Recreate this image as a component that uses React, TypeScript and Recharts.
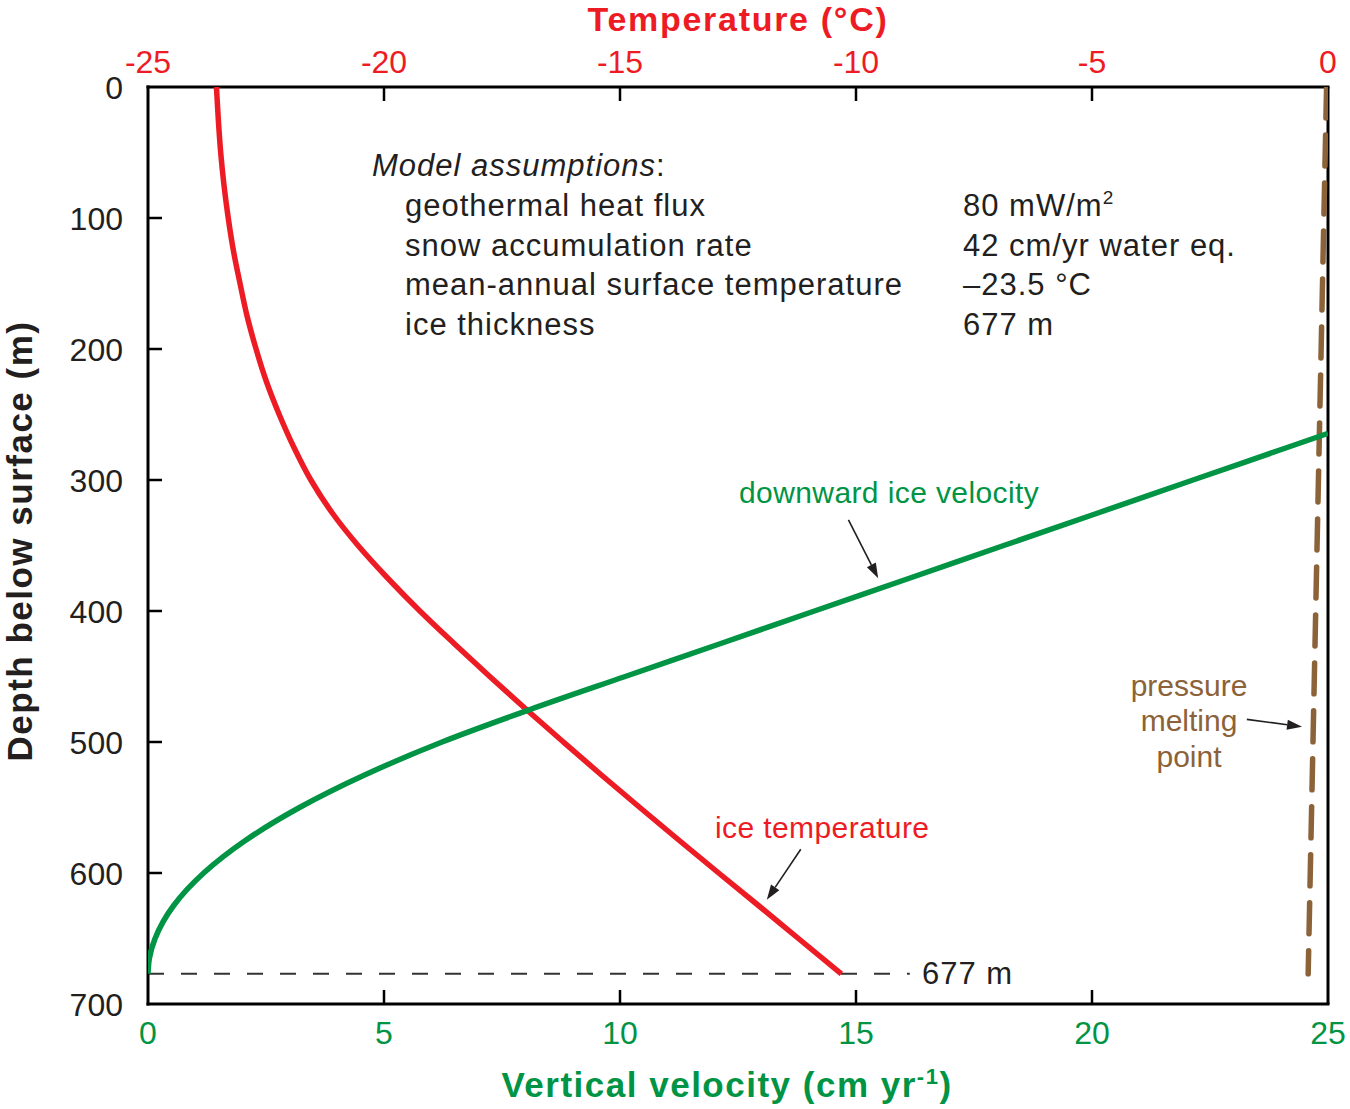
import React from 'react';
import { ScatterChart, Scatter, XAxis, YAxis, ReferenceLine } from 'recharts';

// Ice temperature profile, read every 25 m (depth in m, temperature in °C)
const tempDepth = [
  0, 25, 50, 75, 100, 125, 150, 175, 200, 225, 250, 275, 300, 325,
  350, 375, 400, 425, 450, 475, 500, 525, 550, 575, 600, 625, 650, 677,
];
const tempValues = [
  -23.55, -23.51, -23.46, -23.39, -23.3, -23.19, -23.05, -22.9, -22.71, -22.49, -22.22, -21.91, -21.55, -21.1,
  -20.55, -19.92, -19.24, -18.51, -17.76, -16.99, -16.2, -15.4, -14.58, -13.75, -12.91, -12.06, -11.22, -10.31,
];

// Downward ice velocity (cm/yr); the curve leaves the frame at 25 cm/yr
const velDepth = [264.4, 275, 300, 325, 350, 375, 400, 425, 450, 475, 500, 525, 550, 575, 600, 625, 650, 665, 677];
const velValues = [25, 24.15, 22.14, 20.14, 18.13, 16.13, 14.12, 12.12, 10.11, 8.11, 6.23, 4.6, 3.21, 2.07, 1.18, 0.54, 0.15, 0.03, 0];

// Pressure melting point (°C)
const pmpDepth = [0, 677];
const pmpValues = [-0.03, -0.42];

const tempTicks = [-25, -20, -15, -10, -5, 0];
const velTicks = [0, 5, 10, 15, 20, 25];
const depthTicks = [0, 100, 200, 300, 400, 500, 600, 700];

const ICE_THICKNESS = 677;
const DASH_END_VEL = 16.14;

// annotation arrows, in velocity / depth units
const arrowStart = [
  { x: 14.84, y: 330.5 },
  { x: 13.83, y: 581.9 },
  { x: 23.28, y: 482.7 },
];
const arrowEnd = [
  { x: 15.47, y: 375 },
  { x: 13.11, y: 620.5 },
  { x: 24.45, y: 488.3 },
];

const assumptionNames = [
  'geothermal heat flux',
  'snow accumulation rate',
  'mean-annual surface temperature',
  'ice thickness',
];
const assumptionValues = ['80 mW/m', '42 cm/yr water eq.', '–23.5 °C', '677 m'];

const RED = '#ED1C24';
const GREEN = '#009444';
const BROWN = '#8C6239';
const INK = '#231F20';
const FONT = '"Liberation Sans", Arial, Helvetica, sans-serif';

const redData = tempDepth.map((d, i) => ({ d, t: tempValues[i] }));
const greenData = velDepth.map((d, i) => ({ d, v: velValues[i] }));
const brownData = pmpDepth.map((d, i) => ({ d, t: pmpValues[i] }));

const noDot = () => <g />;

const TempTick = (props: any) => {
  const { x, y, payload } = props;
  const v = payload.value;
  const edge = v === -25 || v === 0;
  return (
    <g>
      {!edge && <line x1={x} y1={y} x2={x} y2={y + 14} stroke="#000" strokeWidth={2.5} />}
      <text x={x} y={y - 14} textAnchor="middle" fill={RED} fontSize={32} fontFamily={FONT}>
        {v}
      </text>
    </g>
  );
};

const VelTick = (props: any) => {
  const { x, y, payload } = props;
  const v = payload.value;
  const edge = v === 0 || v === 25;
  return (
    <g>
      {!edge && <line x1={x} y1={y} x2={x} y2={y - 14} stroke="#000" strokeWidth={2.5} />}
      <text x={x} y={y + 40} textAnchor="middle" fill={GREEN} fontSize={32} fontFamily={FONT}>
        {v}
      </text>
    </g>
  );
};

const DepthTick = (props: any) => {
  const { x, y, payload } = props;
  const v = payload.value;
  const edge = v === 0 || v === 700;
  return (
    <g>
      {!edge && <line x1={x} y1={y} x2={x + 14} y2={y} stroke="#000" strokeWidth={2.5} />}
      <text x={x - 25} y={y + 12} textAnchor="end" fill={INK} fontSize={32} fontFamily={FONT}>
        {v}
      </text>
    </g>
  );
};

const Arrow = (props: any) => {
  const { x1, y1, x2, y2 } = props;
  const a = Math.atan2(y2 - y1, x2 - x1);
  const len = 15;
  const half = 5;
  const bx = x2 - len * Math.cos(a);
  const by = y2 - len * Math.sin(a);
  const p1 = `${bx + half * Math.sin(a)},${by - half * Math.cos(a)}`;
  const p2 = `${bx - half * Math.sin(a)},${by + half * Math.cos(a)}`;
  return (
    <g>
      <line x1={x1} y1={y1} x2={bx} y2={by} stroke={INK} strokeWidth={1.6} />
      <polygon points={`${x2},${y2} ${p1} ${p2}`} fill={INK} />
    </g>
  );
};

const axisLine = { stroke: '#000', strokeWidth: 3, strokeLinecap: 'square' as const };

export default function App() {
  return (
    <div
      style={{
        position: 'absolute',
        left: 0,
        top: 0,
        width: 1350,
        height: 1109,
        background: '#fff',
        fontFamily: FONT,
      }}
    >
      <ScatterChart width={1350} height={1109} margin={{ top: 0, right: 22, bottom: 0, left: 0 }}>
        <XAxis
          xAxisId="temp"
          orientation="top"
          type="number"
          dataKey="t"
          domain={[-25, 0]}
          ticks={tempTicks}
          allowDataOverflow
          height={87}
          axisLine={axisLine}
          tickLine={false}
          tickSize={0}
          tickMargin={0}
          tick={<TempTick />}
        />
        <XAxis
          xAxisId="vel"
          orientation="bottom"
          type="number"
          dataKey="v"
          domain={[0, 25]}
          ticks={velTicks}
          allowDataOverflow
          height={105}
          axisLine={axisLine}
          tickLine={false}
          tickSize={0}
          tickMargin={0}
          tick={<VelTick />}
        />
        <YAxis
          yAxisId="depth"
          type="number"
          dataKey="d"
          domain={[0, 700]}
          ticks={depthTicks}
          reversed
          allowDataOverflow
          width={148}
          axisLine={axisLine}
          tickLine={false}
          tickSize={0}
          tickMargin={0}
          tick={<DepthTick />}
        />

        {/* right edge of the frame */}
        <ReferenceLine xAxisId="vel" yAxisId="depth" x={25} stroke="#000" strokeWidth={3} />

        {/* ice thickness marker */}
        <ReferenceLine
          xAxisId="vel"
          yAxisId="depth"
          segment={[
            { x: 0, y: ICE_THICKNESS },
            { x: DASH_END_VEL, y: ICE_THICKNESS },
          ]}
          stroke="#333"
          strokeWidth={2}
          strokeDasharray="16 17"
        />

        <Scatter
          name="pressure melting point"
          xAxisId="temp"
          yAxisId="depth"
          data={brownData}
          fill={BROWN}
          line={{ stroke: BROWN, strokeWidth: 5.5, strokeDasharray: '31 17', strokeLinecap: 'round' }}
          shape={noDot}
          isAnimationActive={false}
        />
        <Scatter
          name="ice temperature"
          xAxisId="temp"
          yAxisId="depth"
          data={redData}
          fill={RED}
          line={{ stroke: RED, strokeWidth: 5.5 }}
          lineJointType="monotoneY"
          shape={noDot}
          isAnimationActive={false}
        />
        <Scatter
          name="downward ice velocity"
          xAxisId="vel"
          yAxisId="depth"
          data={greenData}
          fill={GREEN}
          line={{ stroke: GREEN, strokeWidth: 5.5 }}
          lineJointType="monotoneY"
          shape={noDot}
          isAnimationActive={false}
        />

        {arrowStart.map((s, i) => (
          <ReferenceLine
            key={i}
            xAxisId="vel"
            yAxisId="depth"
            segment={[s, arrowEnd[i]]}
            shape={Arrow}
          />
        ))}
      </ScatterChart>

      <svg
        width={1350}
        height={1109}
        style={{ position: 'absolute', left: 0, top: 0, pointerEvents: 'none' }}
        fontFamily={FONT}
      >
        {/* axis titles */}
        <text x={738} y={31} textAnchor="middle" fill={RED} fontSize={34} fontWeight="bold" letterSpacing={1.7}>
          Temperature (°C)
        </text>
        <text x={727} y={1097} textAnchor="middle" fill={GREEN} fontSize={35} fontWeight="bold" letterSpacing={1.5}>
          Vertical velocity (cm yr
          <tspan fontSize={22} dy={-13}>-1</tspan>
          <tspan dy={13}>)</tspan>
        </text>
        <text
          transform="translate(32,541) rotate(-90)"
          textAnchor="middle"
          fill={INK}
          fontSize={35}
          fontWeight="bold"
          letterSpacing={1.5}
        >
          Depth below surface (m)
        </text>

        {/* model assumptions block */}
        <text x={372} y={176} fill={INK} fontSize={31} letterSpacing={1}>
          <tspan fontStyle="italic">Model assumptions</tspan>:
        </text>
        {assumptionNames.map((n, i) => (
          <text key={n} x={405} y={216 + i * 39.5} fill={INK} fontSize={31} letterSpacing={1}>
            {n}
          </text>
        ))}
        {assumptionValues.map((v, i) => (
          <text key={v} x={963} y={216 + i * 39.5} fill={INK} fontSize={31} letterSpacing={1}>
            {v}
            {i === 0 && (
              <tspan fontSize={19} dy={-12}>
                2
              </tspan>
            )}
          </text>
        ))}

        {/* curve labels */}
        <text x={739} y={503} fill={GREEN} fontSize={30} letterSpacing={0.4}>
          downward ice velocity
        </text>
        <text x={715} y={838} fill={RED} fontSize={30} letterSpacing={0.4}>
          ice temperature
        </text>
        <text x={922} y={984} fill={INK} fontSize={31} letterSpacing={1}>
          677 m
        </text>
        <text x={1189} y={696} textAnchor="middle" fill={BROWN} fontSize={30}>
          pressure
        </text>
        <text x={1189} y={731} textAnchor="middle" fill={BROWN} fontSize={30}>
          melting
        </text>
        <text x={1189} y={767} textAnchor="middle" fill={BROWN} fontSize={30}>
          point
        </text>
      </svg>
    </div>
  );
}
